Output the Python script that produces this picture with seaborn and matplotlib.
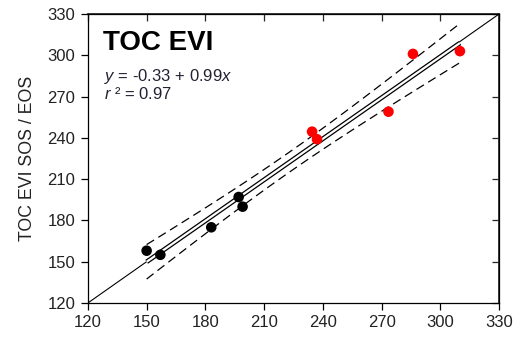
import numpy as np
import pandas as pd
import seaborn as sns
import matplotlib as mpl
from matplotlib import pyplot as plt

# values
ref_x_black = [150, 157, 183, 197, 199]
ref_y_black = [158, 155, 175, 197, 190]
ref_x_red = [234.5, 237, 273.5, 286, 310]
ref_y_red = [244.5, 239, 259, 301, 303]
ticks = [120, 150, 180, 210, 240, 270, 300, 330]
title = "TOC EVI"
eq_text = "$y$ = -0.33 + 0.99$x$"
r2_text = "$r$ ² = 0.97"

sns.set_theme(style="ticks")
plt.rcParams['font.family'] = ['Liberation Sans', 'DejaVu Sans']
plt.rcParams['mathtext.fontset'] = 'custom'
plt.rcParams['mathtext.it'] = 'Liberation Sans:italic'
plt.rcParams['mathtext.rm'] = 'Liberation Sans'

df = pd.DataFrame({
    'x': ref_x_black + ref_x_red,
    'y': ref_y_black + ref_y_red,
    'group': ['a'] * len(ref_x_black) + ['b'] * len(ref_x_red),
})

fig = plt.figure(figsize=(5.14, 3.38), dpi=100)
ax = fig.add_axes([0.171, 0.1036, 0.800, 0.855])

# 1:1 line
ax.plot([120, 330], [120, 330], color='black', lw=0.8, zorder=1)

# regression fit and 95% confidence band from the data
x = df['x'].to_numpy()
y = df['y'].to_numpy()
n = len(x)
b1, b0 = np.polyfit(x, y, 1)
resid = y - (b0 + b1 * x)
s = np.sqrt(np.sum(resid ** 2) / (n - 2))
xs = np.linspace(x.min(), x.max(), 100)
yhat = b0 + b1 * xs
sxx = np.sum((x - x.mean()) ** 2)
t = 2.306
ci = t * s * np.sqrt(1 / n + (xs - x.mean()) ** 2 / sxx)

# drawn as a double line, like the original
ax.plot(xs, yhat, color='black', lw=3.4, zorder=2, solid_capstyle='butt')
ax.plot(xs, yhat, color='white', lw=1.6, zorder=2.1, solid_capstyle='butt')
ax.plot(xs, yhat + ci, color='black', lw=0.9, ls=(0, (7, 4)), zorder=2)
ax.plot(xs, yhat - ci, color='black', lw=0.9, ls=(0, (7, 4)), zorder=2)

sns.scatterplot(data=df, x='x', y='y', hue='group',
                palette={'a': 'black', 'b': '#ff0000'},
                s=58, linewidth=0, legend=False, ax=ax, zorder=3)

ax.set_xlim(120, 330)
ax.set_ylim(120, 330)
ax.set_xticks(ticks)
ax.set_yticks(ticks)
ax.set_xlabel('')
ax.set_ylabel('TOC EVI SOS / EOS', fontsize=12.8, color='#222222', labelpad=8)
ax.tick_params(direction='out', length=5, width=0.9, labelsize=12,
               colors='black', labelcolor='#222222', pad=4)
for sp in ax.spines.values():
    sp.set_visible(True)
    sp.set_linewidth(0.9)
    sp.set_color('black')

top = ax.secondary_xaxis('top')
top.set_xticks(ticks)
top.tick_params(direction='in', length=5, width=0.9, labeltop=False)
right = ax.secondary_yaxis('right')
right.set_yticks(ticks)
right.tick_params(direction='in', length=5, width=0.9, labelright=False)

ax.text(0.036, 0.877, title, transform=ax.transAxes, fontsize=20,
        fontweight='bold', color='black', va='baseline')
ax.text(0.04, 0.768, eq_text, transform=ax.transAxes, fontsize=12,
        color='#222233', va='baseline')
ax.text(0.04, 0.706, r2_text, transform=ax.transAxes, fontsize=12,
        color='#222233', va='baseline')

fig.savefig('out.png', dpi=100)
